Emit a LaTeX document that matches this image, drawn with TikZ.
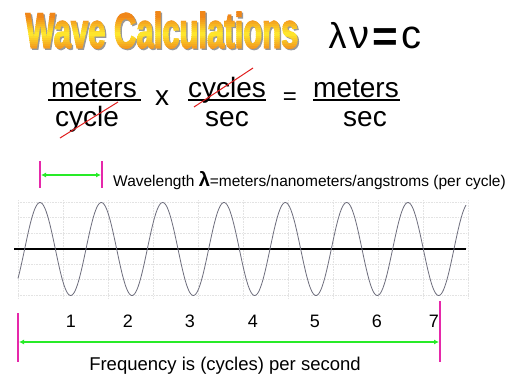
\documentclass[tikz,border=0pt]{standalone}
\usepackage{fontspec}
\setmainfont{Liberation Sans}
\newfontfamily\titlefont{Liberation Sans Bold}[FakeStretch=0.62,FakeBold=2]
\usetikzlibrary{arrows.meta}
\definecolor{mag}{RGB}{230,40,170}
\definecolor{grn}{RGB}{40,235,40}
\definecolor{wavec}{RGB}{110,110,125}
\definecolor{titleor}{RGB}{240,135,25}
\definecolor{titleye}{RGB}{255,235,45}
\definecolor{strikered}{RGB}{225,30,30}
\begin{document}
\begin{tikzpicture}[x=1pt,y=-1pt,
  frac/.style={font=\fontsize{28}{28}\selectfont, inner sep=0pt, anchor=base},
  fracbar/.style={line width=1.3pt},
  strike/.style={strikered, line width=1pt},
  tickln/.style={mag, line width=1.3pt},
  garrow/.style={grn, line width=1.6pt, {Latex[length=5pt,width=5pt]}-{Latex[length=5pt,width=5pt]}},
  numl/.style={font=\fontsize{18}{18}\selectfont, inner sep=0pt, anchor=base},
  gridl/.style={black!11, densely dotted, line width=0.6pt},
  wave/.style={wavec, line width=0.8pt},
  ttl/.style={font=\titlefont\fontsize{50}{50}\selectfont, inner sep=0pt},
  greek/.style={inner sep=0pt, anchor=base},
]
\useasboundingbox (0,0) rectangle (512,383);
\fill[white] (0,0) rectangle (512,383);

% title with vertical orange-yellow-orange gradient (banded)
\node[ttl, text=black!40] (titleshadow) at (163.5,31.5) {Wave Calculations};
\foreach \i in {0,...,21} {
  \pgfmathsetmacro\yy{8+2*\i}
  \pgfmathtruncatemacro\pp{max(0,100*(1-abs(\yy+1-34)/17))}
  \begin{scope}
    \clip (0,\yy) rectangle (512,\yy+2.1);
    \node[ttl, text=titleye!\pp!titleor] (tband\i) at (162,30) {Wave Calculations};
  \end{scope}
}

% lambda nu = c
\node[greek, font=\fontsize{36}{36}\selectfont] (lam) at (337.5,48) {λ};
\node[greek, font=\fontsize{40}{40}\selectfont] (nu) at (359,48) {ν};
\node[inner sep=0pt, font=\fontsize{44}{44}\selectfont\bfseries] (eqc) at (385,40.5) {=};
\node[greek, font=\fontsize{40}{40}\selectfont] (cc) at (411.5,48) {c};

% fractions
\node[frac] (n1) at (94,97) {meters};
\node[frac] (d1) at (87,126) {cycle};
\coordinate (b1l) at (48,100); \coordinate (b1r) at (141,100);
\draw[fracbar] (b1l) -- (b1r);
\node[frac] (times) at (162,105) {x};
\node[frac] (n2) at (227,97) {cycles};
\node[frac] (d2) at (227,126) {sec};
\coordinate (b2l) at (188,100); \coordinate (b2r) at (266,100);
\draw[fracbar] (b2l) -- (b2r);
\node[font=\fontsize{24}{24}\selectfont, inner sep=0pt] (eq) at (290,99) {=};
\node[frac] (n3) at (356,97) {meters};
\node[frac] (d3) at (365,126) {sec};
\coordinate (b3l) at (313,100); \coordinate (b3r) at (400,100);
\draw[fracbar] (b3l) -- (b3r);
\coordinate (s1a) at (60,138); \coordinate (s1b) at (118,102);
\draw[strike] (s1a) -- (s1b);
\coordinate (s2a) at (194,107); \coordinate (s2b) at (253,68);
\draw[strike] (s2a) -- (s2b);

% grid
\foreach \k in {0,...,10} {\draw[gridl] (18+45*\k,200) -- (18+45*\k,298);}
\foreach \k in {0,...,6} {\draw[gridl] (18,202+15.5*\k) -- (468,202+15.5*\k);}

% axis and wave
\coordinate (axl) at (14,249); \coordinate (axr) at (466,249);
\draw[line width=1.8pt] (axl) -- (axr);
\draw[wave] plot[domain=18:466, samples=400, smooth] (\x, {249-46.5*cos(5.8699*(\x-40))});

% wavelength marker
\coordinate (wl1t) at (40,161); \coordinate (wl1b) at (40,188);
\coordinate (wl2t) at (102,161); \coordinate (wl2b) at (102,188);
\draw[tickln] (wl1t) -- (wl1b);
\draw[tickln] (wl2t) -- (wl2b);
\coordinate (wa1) at (41,175); \coordinate (wa2) at (101,175);
\draw[garrow] (wa1) -- (wa2);
\node[font=\fontsize{15.5}{15.5}\selectfont, inner sep=0pt, anchor=base west] (wltext) at (113,186)
  {Wavelength {\fontsize{20}{20}\selectfont\bfseries λ}=meters/nanometers/angstroms (per cycle)};

% frequency marker
\coordinate (f1t) at (18,313); \coordinate (f1b) at (18,362);
\coordinate (f2t) at (440,301); \coordinate (f2b) at (440,362);
\draw[tickln] (f1t) -- (f1b);
\draw[tickln] (f2t) -- (f2b);
\coordinate (fa1) at (19,342); \coordinate (fa2) at (439,342);
\draw[garrow] (fa1) -- (fa2);
\foreach \n/\xx in {1/71,2/128,3/190,4/253,5/315,6/377,7/434} {
  \node[numl] (num\n) at (\xx,327) {\n};
}
\node[font=\fontsize{18.5}{18.5}\selectfont, inner sep=0pt, anchor=base] (freqtext) at (225,370) {Frequency is (cycles) per second};
\end{tikzpicture}
\end{document}
